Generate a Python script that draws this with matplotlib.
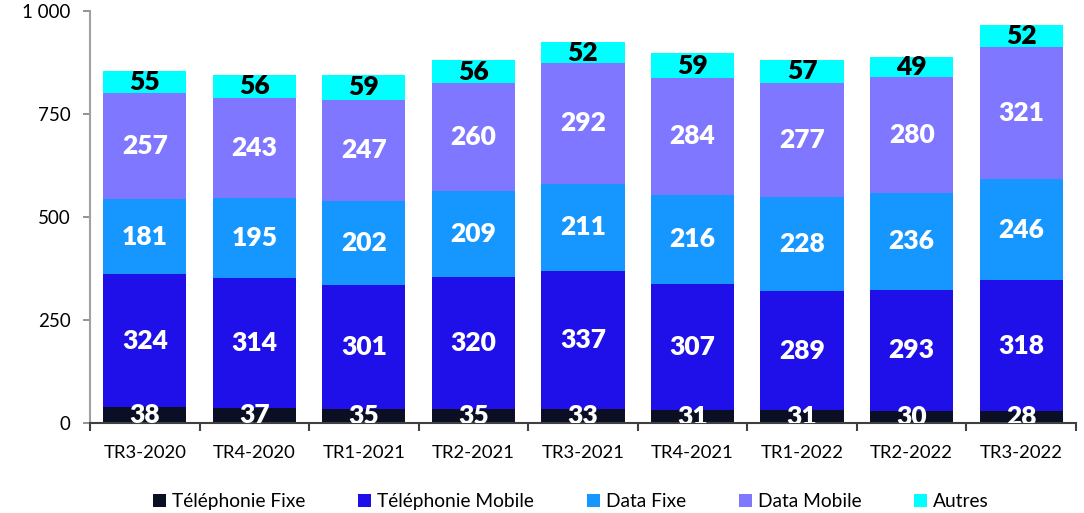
import matplotlib
matplotlib.use("Agg")
import matplotlib.pyplot as plt
from matplotlib.ticker import FuncFormatter, FixedLocator
from matplotlib.patches import Patch
import numpy as np

plt.rcParams['font.family'] = ['Lato', 'DejaVu Sans']

categories = ["TR3-2020", "TR4-2020", "TR1-2021", "TR2-2021", "TR3-2021",
              "TR4-2021", "TR1-2022", "TR2-2022", "TR3-2022"]
series_names = ["Téléphonie Fixe", "Téléphonie Mobile", "Data Fixe", "Data Mobile", "Autres"]
tel_fixe = [38, 37, 35, 35, 33, 31, 31, 30, 28]
tel_mobile = [324, 314, 301, 320, 337, 307, 289, 293, 318]
data_fixe = [181, 195, 202, 209, 211, 216, 228, 236, 246]
data_mobile = [257, 243, 247, 260, 292, 284, 277, 280, 321]
autres = [55, 56, 59, 56, 52, 59, 57, 49, 52]

colors = ["#0a0f23", "#1f0fe8", "#1696ff", "#7f77ff", "#00ffff"]
label_colors = ["white", "white", "white", "white", "black"]
series = [tel_fixe, tel_mobile, data_fixe, data_mobile, autres]

fig = plt.figure(figsize=(10.84, 5.13), dpi=100)
ax = fig.add_axes([0.083, 0.1754, 0.9096, 0.8032])

x = np.arange(len(categories))
bottom = np.zeros(len(categories))
for vals, col, lc in zip(series, colors, label_colors):
    vals = np.array(vals, dtype=float)
    ax.bar(x, vals, 0.76, bottom=bottom, color=col, zorder=2)
    for xi, b, v in zip(x, bottom, vals):
        ax.text(xi, b + v / 2, f"{int(v)}", ha="center", va="center",
                color=lc, fontsize=19, fontweight="heavy", clip_on=True, zorder=3)
    bottom += vals

ax.set_xlim(-0.5, len(categories) - 0.5)
ax.set_ylim(0, 1000)
ax.set_yticks([0, 250, 500, 750, 1000])
ax.yaxis.set_major_formatter(FuncFormatter(lambda v, p: f"{int(v):,}".replace(",", " ")))
ax.set_xticks(x)
ax.set_xticklabels(categories)
ax.xaxis.set_minor_locator(FixedLocator(np.arange(-0.5, len(categories), 1.0)))
ax.tick_params(axis="x", which="major", length=0, pad=16, labelsize=13.3)
ax.tick_params(axis="x", which="minor", length=6, width=1.5, color="#404040", direction="out")
ax.tick_params(axis="y", length=5, width=1.2, color="#808080", labelsize=13.5, pad=9)

for s in ["top", "right"]:
    ax.spines[s].set_visible(False)
ax.spines["left"].set_color("#a0a0a0")
ax.spines["left"].set_linewidth(1.5)
ax.spines["bottom"].set_color("#404040")
ax.spines["bottom"].set_linewidth(1.5)

handles = [Patch(facecolor=c, edgecolor="none") for c in colors]
fig.legend(handles, series_names, loc="center", bbox_to_anchor=(0.5265, 0.022), ncol=5,
           frameon=False, fontsize=13.8, handlelength=0.7, handleheight=0.7,
           handletextpad=0.3, columnspacing=2.75)

fig.savefig("out.png", dpi=100)
